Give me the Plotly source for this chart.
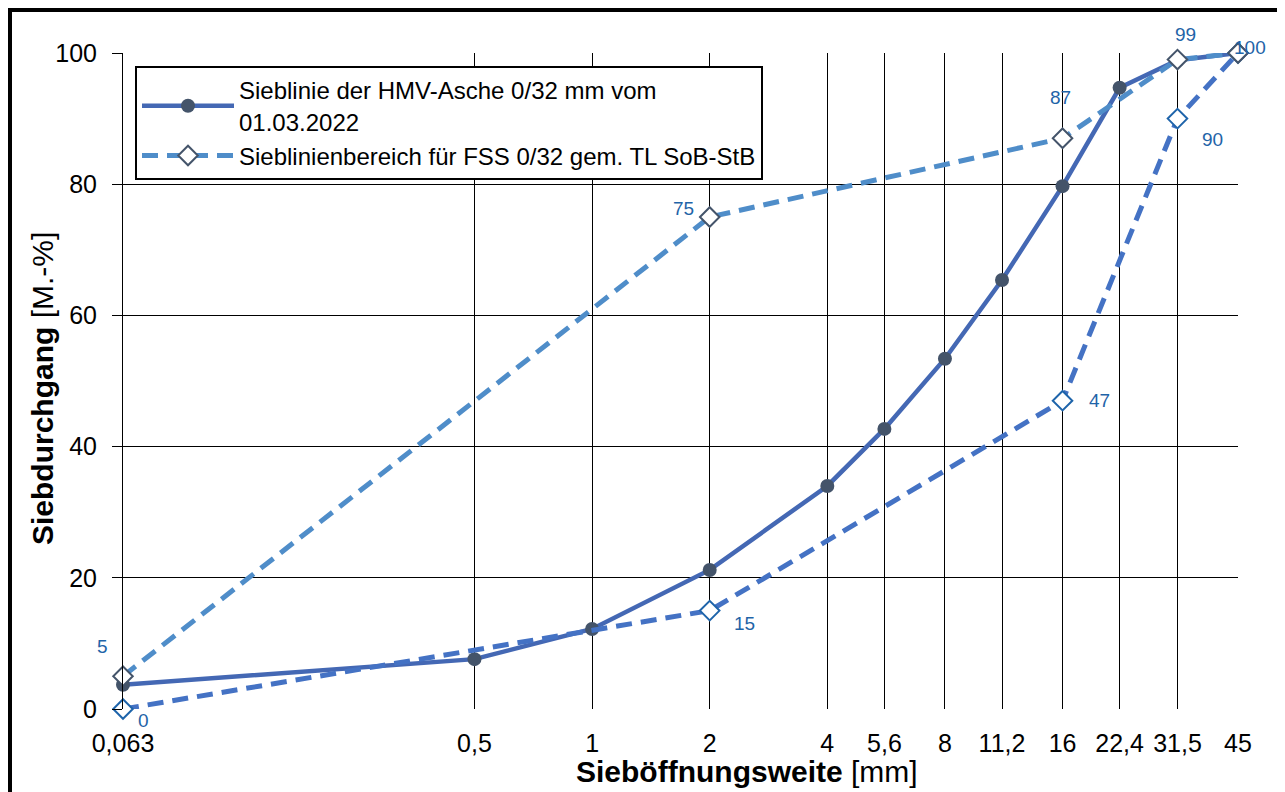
import numpy as np
import plotly.graph_objects as go

# ---- data ----
sieve_sizes = [0.063, 0.5, 1, 2, 4, 5.6, 8, 11.2, 16, 22.4, 31.5, 45]
tick_labels = ["0,063", "0,5", "1", "2", "4", "5,6", "8", "11,2", "16", "22,4", "31,5", "45"]
passing_hmv = [3.7, 7.6, 12.2, 21.2, 34.0, 42.7, 53.4, 65.4, 79.7, 94.7, 98.9, 100]

limit_sizes = [0.063, 2, 16, 31.5, 45]
upper_limit = [5, 75, 87, 99, 100]
lower_limit = [0, 15, 47, 90, 100]

name_hmv = "Sieblinie der HMV-Asche 0/32 mm vom<br>01.03.2022"
name_range = "Sieblinienbereich für FSS 0/32 gem. TL SoB-StB"

# ---- styles ----
FONT = "Liberation Sans, Arial, sans-serif"
c_main = "#4468B4"
c_marker = "#44546A"
c_upper = "#4F8DC9"
c_lower = "#4472C4"
c_lower_mk = "#1E64AA"
c_label = "#1F64A8"

fig = go.Figure()
fig.add_trace(go.Scatter(
    x=sieve_sizes, y=passing_hmv, mode="lines+markers", name=name_hmv, cliponaxis=False,
    line=dict(color=c_main, width=4.5),
    marker=dict(symbol="circle", size=14, color=c_marker),
))
fig.add_trace(go.Scatter(
    x=limit_sizes, y=lower_limit, mode="lines+markers", name=name_range, showlegend=False,
    cliponaxis=False,
    line=dict(color=c_lower, width=5, dash="16px,9px"),
    marker=dict(symbol="diamond", size=15, color="white", line=dict(color=c_lower_mk, width=2)),
))
fig.add_trace(go.Scatter(
    x=limit_sizes, y=upper_limit, mode="lines+markers", name=name_range, cliponaxis=False,
    line=dict(color=c_upper, width=5, dash="16px,9px"),
    marker=dict(symbol="diamond", size=15, color="white", line=dict(color=c_marker, width=2)),
))

# data labels (offsets in px)
upper_offsets = [(-21, 30), (-26, 9), (-2, 41), (8, 25), (12, 6)]
lower_offsets = [(20, -11), (35, -13), (37, 0), (35, -21), None]
annotations = []
for xs, ys, offs in [(limit_sizes, upper_limit, upper_offsets), (limit_sizes, lower_limit, lower_offsets)]:
    for xv, yv, off in zip(xs, ys, offs):
        if off is None:
            continue
        annotations.append(dict(
            x=np.log10(xv), y=yv, xref="x", yref="y", text=str(yv), showarrow=False,
            xshift=off[0], yshift=off[1], font=dict(family=FONT, size=19, color=c_label),
        ))

# figure is placed 8px into the page (body margin); sizes chosen so the plot area
# lands at page x 123..1238, y 53..709
W, H = 1277, 784
ML, MR, MT, MB = 115, 47, 45, 83
PW, PH = W - ML - MR, H - MT - MB


def px_x(p):  # page x -> paper
    return (p - 8 - ML) / PW


def px_y(p):  # page y -> paper
    return (H - MB - (p - 8)) / PH


annotations.append(dict(
    x=px_x(747), y=px_y(771), xref="paper", yref="paper", xanchor="center", yanchor="middle",
    text="<b>Sieböffnungsweite</b> [mm]", showarrow=False,
    font=dict(family=FONT, size=30, color="black"),
))
annotations.append(dict(
    x=px_x(42), y=px_y(389), xref="paper", yref="paper", xanchor="center", yanchor="middle",
    text="<b>Siebdurchgang</b> [M.-%]", showarrow=False, textangle=-90,
    font=dict(family=FONT, size=30, color="black"),
))

fig.update_layout(
    width=W, height=H,
    margin=dict(l=ML, r=MR, t=MT, b=MB),
    paper_bgcolor="white", plot_bgcolor="white",
    font=dict(family=FONT, size=24, color="black"),
    showlegend=True,
    legend=dict(
        x=px_x(135), y=px_y(66), xanchor="left", yanchor="top",
        bgcolor="white", bordercolor="black", borderwidth=2,
        font=dict(family=FONT, size=24, color="black"),
        itemwidth=92, tracegroupgap=0,
    ),
    annotations=annotations,
    shapes=[dict(
        type="rect", xref="paper", yref="paper",
        x0=px_x(10), x1=px_x(1280), y0=px_y(820), y1=px_y(10),
        line=dict(color="black", width=4), fillcolor="rgba(0,0,0,0)", layer="above",
    )],
)

fig.update_xaxes(
    type="log", range=[np.log10(sieve_sizes[0]), np.log10(sieve_sizes[-1])],
    tickmode="array", tickvals=sieve_sizes, ticktext=tick_labels,
    showgrid=True, gridcolor="black", gridwidth=1,
    showline=False, zeroline=False, ticks="", ticklabelstandoff=17,
    tickfont=dict(family=FONT, size=25, color="black"),
)
fig.update_yaxes(
    range=[0, 100], tickmode="array", tickvals=[0, 20, 40, 60, 80, 100],
    showgrid=True, gridcolor="black", gridwidth=1,
    showline=True, linecolor="black", linewidth=1, zeroline=False,
    ticks="outside", ticklen=10, tickcolor="black", ticklabelstandoff=10,
    tickfont=dict(family=FONT, size=25, color="black"),
)

fig.write_html("out.html")
